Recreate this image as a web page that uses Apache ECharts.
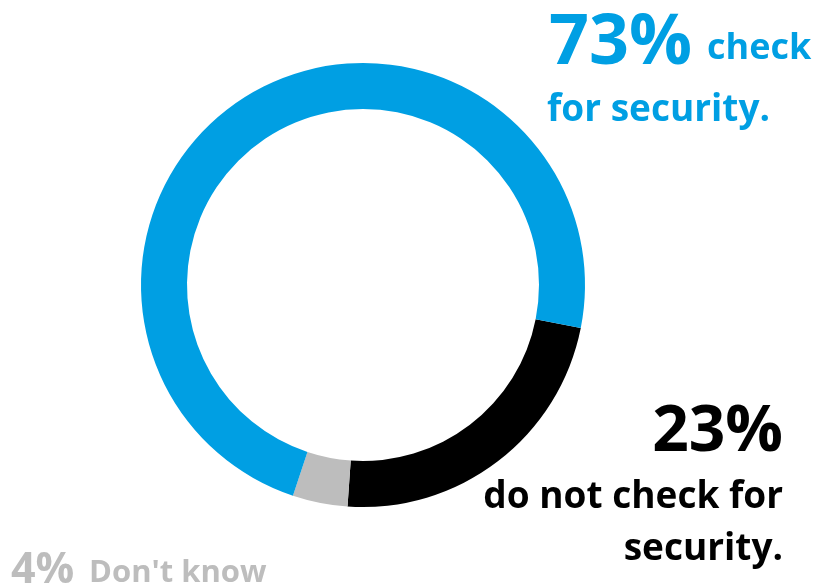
<!DOCTYPE html>
<html>
<head>
<meta charset="utf-8">
<style>
  html, body { margin: 0; padding: 0; background: #ffffff; }
  #chart { width: 820px; height: 588px; }
</style>
<script src="https://cdn.jsdelivr.net/npm/echarts@6/dist/echarts.min.js"></script>
</head>
<body>
<div id="chart"></div>
<script>
// Data
const categories = ['do not check for security', "Don't know", 'check for security'];
const values = [23, 4, 73];
const colors = ['#000000', '#bdbdbd', '#009fe3'];

const chart = echarts.init(document.getElementById('chart'), null, { renderer: 'canvas' });
const FONT = '"Open Sans", "Noto Sans", sans-serif';

const option = {
  animation: false,
  backgroundColor: '#ffffff',
  series: [{
    type: 'pie',
    center: [363, 285],
    radius: [176, 222],
    startAngle: -11.2,
    clockwise: true,
    silent: true,
    label: { show: false },
    labelLine: { show: false },
    itemStyle: { borderWidth: 0 },
    data: categories.map((c, i) => ({ name: c, value: values[i], itemStyle: { color: colors[i] } }))
  }],
  graphic: [
    { type: 'text', left: 549, top: 9, style: { text: values[2] + '%', fill: '#009fe3', font: 'bold 70px ' + FONT } },
    { type: 'text', left: 707, top: 31, style: { text: 'check', fill: '#009fe3', font: 'bold 36px ' + FONT } },
    { type: 'text', left: 547, top: 92, style: { text: 'for security.', fill: '#009fe3', font: 'bold 37px ' + FONT } },
    { type: 'text', right: 37, top: 401, style: { text: values[0] + '%', fill: '#000000', font: 'bold 64px ' + FONT } },
    { type: 'text', right: 37, top: 479, style: { text: 'do not check for', fill: '#000000', font: 'bold 37px ' + FONT } },
    { type: 'text', right: 37, top: 531, style: { text: 'security.', fill: '#000000', font: 'bold 37px ' + FONT } },
    { type: 'text', left: 11, top: 549, style: { text: values[1] + '%', fill: '#bdbdbd', font: 'bold 43px ' + FONT } },
    { type: 'text', left: 89, top: 558, style: { text: "Don't know", fill: '#bdbdbd', font: 'bold 31px ' + FONT } }
  ]
};
chart.setOption(option);
</script>
</body>
</html>
